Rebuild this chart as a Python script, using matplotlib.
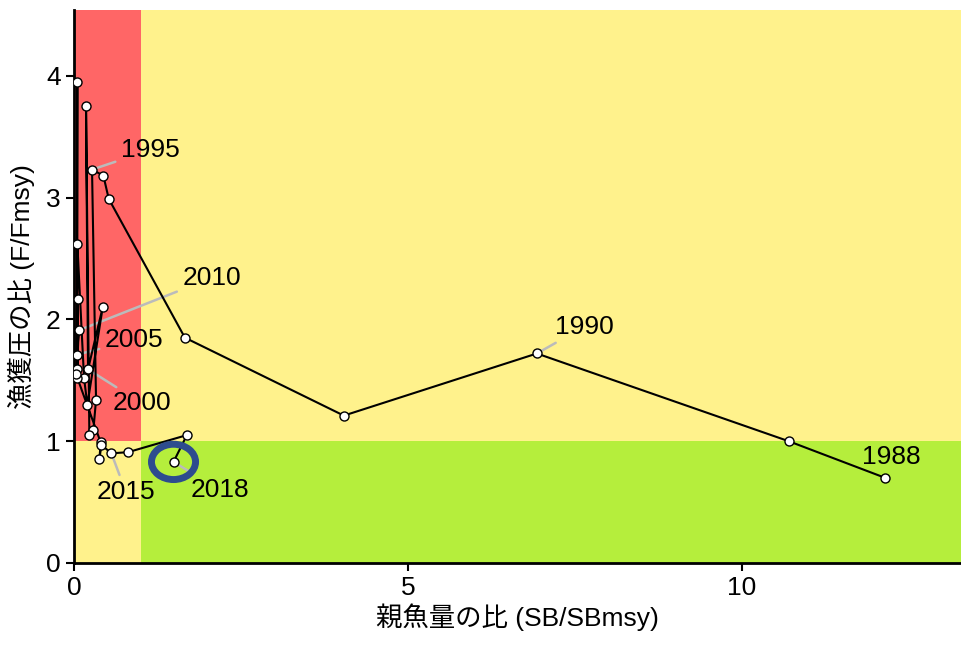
import matplotlib
matplotlib.use("Agg")
import matplotlib.pyplot as plt
from matplotlib.patches import Rectangle, Ellipse

plt.rcParams["font.family"] = ["Liberation Sans Narrow", "Liberation Sans", "Noto Sans CJK JP"]

# Kobe plot data
years = list(range(1988, 2019))
sb_ratio = [12.14, 10.70, 6.93, 4.04, 1.66, 0.52, 0.44, 0.27, 0.33, 0.29,
            0.23, 0.18, 0.21, 0.43, 0.20, 0.15, 0.05, 0.04, 0.05, 0.05,
            0.06, 0.04, 0.07, 0.03, 0.40, 0.38, 0.41, 0.56, 0.81, 1.69, 1.49]
f_ratio = [0.70, 1.00, 1.72, 1.21, 1.85, 2.99, 3.18, 3.23, 1.34, 1.09,
           1.05, 3.75, 1.59, 2.10, 1.30, 1.52, 2.62, 1.71, 3.95, 1.59,
           2.17, 1.52, 1.91, 1.55, 0.99, 0.85, 0.97, 0.90, 0.91, 1.05, 0.83]
label_years = [1988, 1990, 1995, 2000, 2005, 2010, 2015, 2018]
label_pos = {1988: (11.80, 0.87), 1990: (7.20, 1.94), 1995: (0.70, 3.39),
             2000: (0.58, 1.31), 2005: (0.46, 1.83), 2010: (1.62, 2.34),
             2015: (0.34, 0.58), 2018: (1.74, 0.60)}

xmax, ymax = 13.28, 4.54

fig = plt.figure(figsize=(9.61, 6.46), dpi=100)
ax = fig.add_axes([0.077, 0.1285, 0.923, 0.856])

# zones
ax.add_patch(Rectangle((0, 1), 1, ymax - 1, color="#FF6666", lw=0, zorder=0))
ax.add_patch(Rectangle((1, 1), xmax - 1, ymax - 1, color="#FFF28C", lw=0, zorder=0))
ax.add_patch(Rectangle((0, 0), 1, 1, color="#FFF28C", lw=0, zorder=0))
ax.add_patch(Rectangle((1, 0), xmax - 1, 1, color="#B5EE3C", lw=0, zorder=0))

ax.plot(sb_ratio, f_ratio, color="black", lw=1.5, zorder=3,
        marker="o", markersize=6.5, markerfacecolor="white",
        markeredgecolor="black", markeredgewidth=1.0)

for yr in label_years:
    i = years.index(yr)
    tx, ty = label_pos[yr]
    arrow = None
    if yr != 1988:
        arrow = dict(arrowstyle="-", color="#BBBBBB", lw=1.8, shrinkA=2, shrinkB=3)
    ax.annotate(str(yr), xy=(sb_ratio[i], f_ratio[i]), xytext=(tx, ty),
                ha="left", va="center", fontsize=19, color="black",
                arrowprops=arrow, zorder=2)

# highlight latest year
i18 = years.index(2018)
ax.add_patch(Ellipse((sb_ratio[i18], f_ratio[i18]), 0.66, 0.29, fill=False,
                     edgecolor="#2D4C8E", lw=5, zorder=4))

ax.set_xlim(0, xmax)
ax.set_ylim(0, ymax)
ax.set_xticks([0, 5, 10])
ax.set_yticks([0, 1, 2, 3, 4])
ax.tick_params(labelsize=19, length=6, width=1.5, colors="black")
for s in ["top", "right"]:
    ax.spines[s].set_visible(False)
for s in ["left", "bottom"]:
    ax.spines[s].set_linewidth(2)

ax.set_xlabel("親魚量の比 (SB/SBmsy)", fontsize=19, labelpad=2)
ax.set_ylabel("漁獲圧の比 (F/Fmsy)", fontsize=19, labelpad=8)

fig.savefig("out.png", dpi=100)
